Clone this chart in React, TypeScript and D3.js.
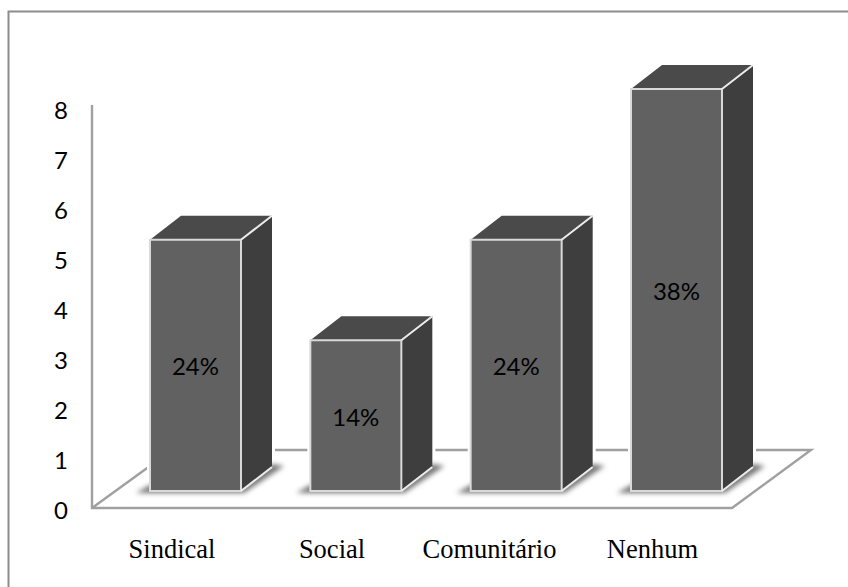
import React from "react";
import * as d3 from "d3";

const categories = ["Sindical", "Social", "Comunitário", "Nenhum"];
const values = [5, 3, 5, 8];
const shares = ["24%", "14%", "24%", "38%"];
const yTicks = [0, 1, 2, 3, 4, 5, 6, 7, 8];

const W = 848;
const H = 587;
const depthX = 31;
const depthY = -24;
const barWidth = 91;

export default function App() {
  // The bars stand on the front of the floor, so they use a scale offset from the axis wall.
  const yBar = d3.scaleLinear().domain([0, 8]).range([491, 89]);
  const yAxis = d3.scaleLinear().domain([0, 8]).range([510, 110]);
  const xBar = d3.scalePoint<string>().domain(categories).range([150, 631]);
  const xLabel = d3.scaleOrdinal<string, number>().domain(categories).range([172, 332, 489.5, 652.5]);
  const poly = (pts: [number, number][]) => d3.line()(pts) + "Z";

  return (
    <svg
      width={W}
      height={H}
      viewBox={`0 0 ${W} ${H}`}
      style={{ position: "absolute", left: 0, top: 0, background: "#fff" }}
    >
      <defs>
        <filter id="floorShadow" x="-20%" y="-50%" width="140%" height="200%">
          <feGaussianBlur stdDeviation="2.5" />
        </filter>
      </defs>

      {/* outer frame, open at the right and bottom */}
      <path d={`M8.5 ${H}V11.5H${W}`} fill="none" stroke="#8c8c8c" strokeWidth={2} />

      {/* floor and side wall */}
      <path d="M92 105V508H732L811 450H172L92 508" fill="none" stroke="#a0a0a0" strokeWidth={2.4} />

      {values.map((v, i) => {
        const cat = categories[i];
        const l = xBar(cat) as number;
        const r = l + barWidth;
        const top = yBar(v);
        const base = yBar(0);
        return (
          <g key={cat}>
            {/* thin white halo that interrupts the floor lines around each bar */}
            <path
              d={poly([
                [l, top],
                [l + depthX, top + depthY],
                [r + depthX, top + depthY],
                [r + depthX, base + depthY],
                [r, base],
                [l, base],
              ])}
              fill="#fff"
              stroke="#fff"
              strokeWidth={6}
            />
            <path
              d={poly([
                [l - 14, base + 2],
                [r + 3, base + 2],
                [r + depthX + 12, base + depthY - 1],
                [r + depthX, base + depthY - 3],
                [r, base - 6],
                [l, base - 6],
              ])}
              fill="#777"
              filter="url(#floorShadow)"
            />
            <path
              d={poly([
                [l, top],
                [l + depthX, top + depthY],
                [r + depthX, top + depthY],
                [r, top],
              ])}
              fill="#4a4a4a"
            />
            <path
              d={poly([
                [r, top],
                [r + depthX, top + depthY],
                [r + depthX, base + depthY],
                [r, base],
              ])}
              fill="#3e3e3e"
            />
            <rect x={l} y={top} width={barWidth} height={base - top} fill="#616161" stroke="#d9d9d9" strokeWidth={2} />
            <path
              d={`M${r} ${top}L${r + depthX} ${top + depthY}M${r} ${base}L${r + depthX} ${base + depthY}`}
              stroke="#ececec"
              strokeWidth={2}
            />
            <text
              x={l + barWidth / 2}
              y={(top + base) / 2 + 10}
              textAnchor="middle"
              fontFamily="Lato, sans-serif"
              fontSize={24}
              fill="#000"
            >
              {shares[i]}
            </text>
            <text
              x={xLabel(cat)}
              y={558}
              textAnchor="middle"
              fontFamily="'Liberation Serif', serif"
              fontSize={26.5}
              fill="#000"
            >
              {cat}
            </text>
          </g>
        );
      })}

      {yTicks.map((t) => (
        <text
          key={t}
          x={61}
          y={yAxis(t)}
          dy="0.36em"
          textAnchor="middle"
          fontFamily="Lato, sans-serif"
          fontSize={24}
          fill="#000"
        >
          {t}
        </text>
      ))}
    </svg>
  );
}
